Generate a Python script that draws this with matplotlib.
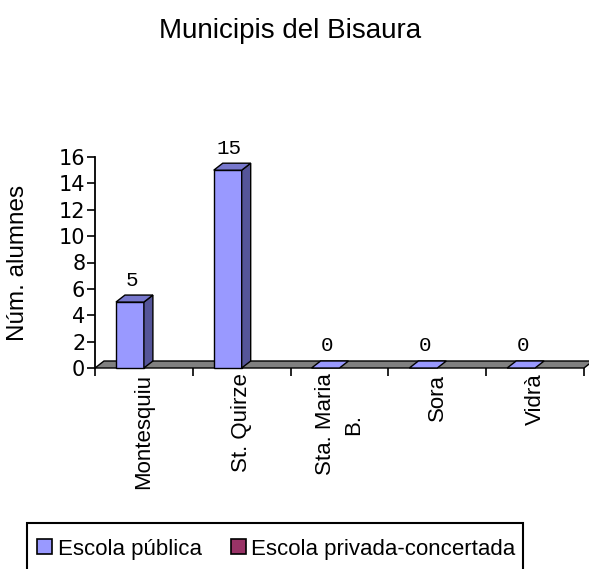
import matplotlib
matplotlib.use('Agg')
import matplotlib.pyplot as plt
from matplotlib.patches import Polygon, Rectangle, Patch

# data
municipis = ['Montesquiu', 'St. Quirze', 'Sta. Maria\nB.', 'Sora', 'Vidrà']
escola_publica = [5, 15, 0, 0, 0]
escola_privada = [None, None, None, None, None]   # serie sense valors
series_names = ['Escola pública', 'Escola privada-concertada']
yticks = list(range(0, 17, 2))

# colors (Excel 3D column style)
FRONT = '#9999FF'
TOP = '#7777CC'
SIDE = '#555599'
PRIV = '#993366'
FLOOR = '#808080'
DEPTH_PX = (9, 7)   # depth offset of the 3D effect, in pixels

plt.rcParams['font.family'] = ['Liberation Sans', 'DejaVu Sans']

W, H = 589, 569
fig = plt.figure(figsize=(W / 100, H / 100), dpi=100)
ax = fig.add_axes([95 / W, 201 / H, 489 / W, 211 / H])
n = len(municipis)
ax.set_xlim(0, n)
ax.set_ylim(0, 16)

# pixel depth -> data units
p0 = ax.transData.transform((0, 0))
p1 = ax.transData.transform((1, 1))
ddx = DEPTH_PX[0] / (p1[0] - p0[0])
ddy = DEPTH_PX[1] / (p1[1] - p0[1])

# floor
floor = Polygon([(0, 0), (n, 0), (n + ddx, ddy), (ddx, ddy)], closed=True,
                facecolor=FLOOR, edgecolor='black', lw=1.0, clip_on=False, zorder=1)
ax.add_patch(floor)

# bars: two series per category, gap width 150%
w = 1 / 3.5
for i, v in enumerate(escola_publica):
    x0 = i + 0.75 * w
    x1 = x0 + w
    if v is None:
        continue
    kw = dict(edgecolor='black', lw=1.0, clip_on=False, zorder=3 + i)
    if v > 0:
        ax.add_patch(Rectangle((x0, 0), w, v, facecolor=FRONT, **kw))
        ax.add_patch(Polygon([(x1, 0), (x1, v), (x1 + ddx, v + ddy), (x1 + ddx, ddy)],
                             closed=True, facecolor=SIDE, **kw))
    ax.add_patch(Polygon([(x0, v), (x1, v), (x1 + ddx, v + ddy), (x0 + ddx, v + ddy)],
                         closed=True, facecolor=TOP if v > 0 else FRONT, **kw))
    ax.annotate(str(v), xy=(x0 + w / 2 + ddx / 2, v + ddy), xytext=(-2, 4),
                textcoords='offset points', ha='center', va='bottom',
                fontsize=15, family=['Liberation Mono', 'DejaVu Sans Mono'],
                zorder=10)

# axes styling
for s in ['top', 'right', 'bottom']:
    ax.spines[s].set_visible(False)
ax.spines['left'].set_linewidth(1.3)
ax.set_yticks(yticks)
ax.set_yticklabels([str(t) for t in yticks], family='DejaVu Sans', fontsize=15)
ax.tick_params(axis='y', length=6, width=1.2, pad=1)
ax.set_xticks(range(n + 1))
ax.set_xticklabels([])
ax.tick_params(axis='x', which='major', length=6, width=1.2)
ax.set_xticks([i + 0.5 for i in range(n)], minor=True)
ax.set_xticklabels(municipis, minor=True, rotation=90, fontsize=16,
                   ha='center', va='top', multialignment='center',
                   linespacing=1.45)
ax.tick_params(axis='x', which='minor', length=0, pad=4)

ax.set_ylabel('Núm. alumnes', fontsize=17.5, va='center')
ax.yaxis.set_label_coords((18 - 95) / 489, 0.5)

fig.text(290 / W, 1 - 31 / H, 'Municipis del Bisaura', fontsize=20,
         ha='center', va='center')

# legend: frame runs past the bottom edge of the picture
fig.patches.append(Rectangle((27 / W, -0.05), 496 / W, (H - 523) / H + 0.05,
                             transform=fig.transFigure, facecolor='none',
                             edgecolor='black', lw=1.5))
handles = [Patch(facecolor=FRONT, edgecolor='black', lw=1.2),
           Patch(facecolor=PRIV, edgecolor='black', lw=1.2)]
fig.legend(handles, series_names, loc='center left',
           bbox_to_anchor=(37 / W, 1 - 549 / H), ncol=2,
           fontsize=16, frameon=False,
           handlelength=0.68, handleheight=0.68, handletextpad=0.25,
           columnspacing=1.3, borderpad=0, borderaxespad=0)

fig.savefig('out.png', dpi=100)
